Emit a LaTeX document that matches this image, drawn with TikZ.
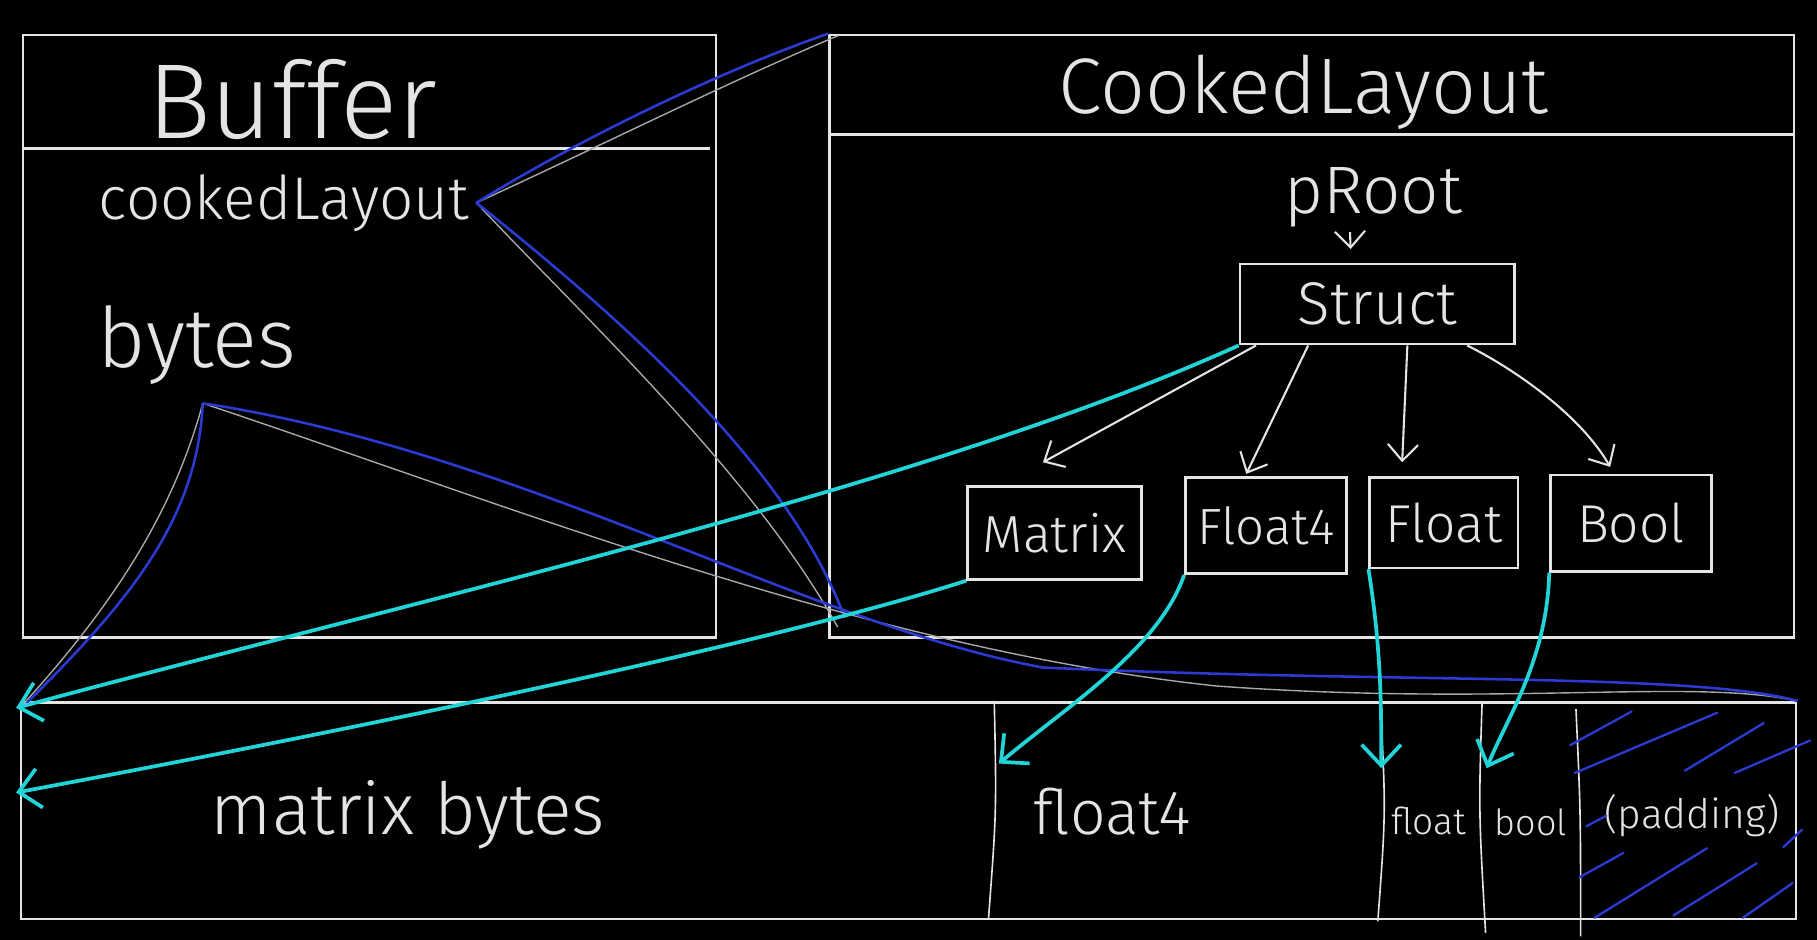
\documentclass[tikz,border=0pt]{standalone}
\usepackage{fontspec}
\setmainfont{Fira Sans Light}
\usetikzlibrary{arrows.meta}
\definecolor{chalk}{HTML}{E4E4E4}
\definecolor{penblue}{HTML}{2B3AD2}
\definecolor{pencyan}{HTML}{20D4D8}
\definecolor{pengray}{HTML}{A8A8A8}
\begin{document}
\begin{tikzpicture}[x=0.5pt,y=-0.5pt,
  lbl/.style={text=chalk, inner sep=0pt, font=\fontsize{#1pt}{#1pt}\selectfont},
  frame/.style={draw=chalk, line width=1.1pt, inner sep=0pt},
  typebox/.style={draw=chalk, line width=1.1pt, inner sep=0pt, text=chalk, font=\fontsize{#1pt}{#1pt}\selectfont},
  rule/.style={draw=chalk, line width=1.1pt},
  thinrule/.style={draw=chalk, line width=0.7pt},
  whitearr/.style={draw=chalk, line width=0.9pt, -{Straight Barb[length=7pt,width=13pt]}},
  cyanarr/.style={draw=pencyan, line width=1.6pt, -{Straight Barb[length=9pt,width=17pt]}},
  blueline/.style={draw=penblue, line width=1.1pt},
  grayline/.style={draw=pengray, line width=0.6pt},
  hatch/.style={draw=penblue, line width=1pt, line cap=round}
]
\fill[black] (0,0) rectangle (1568,811);
\useasboundingbox (0,0) rectangle (1568,811);

% ---------- Buffer frame ----------
\node[frame, minimum width=299pt, minimum height=260pt] (bufbox) at (319,290) {};
\draw[rule] (bufbox.west |- 0,128) -- ([xshift=-3pt]bufbox.east |- 0,128);
\node[lbl=46] (buffer) at (252,86) {Buffer};
\node[lbl=26] (cl) at (245,175) {cookedLayout};
\node[lbl=36] (bytes) at (170,298) {bytes};
\coordinate (bf) at (175,348);

% ---------- CookedLayout frame ----------
\node[frame, minimum width=416pt, minimum height=260pt] (cookbox) at (1132,290) {};
\draw[rule] (cookbox.west |- 0,116) -- (cookbox.east |- 0,116);
\node[lbl=34] (cooktitle) at (1125,80) {CookedLayout};
\node[lbl=29] (proot) at (1185,170) {pRoot};

\node[typebox=26, minimum width=118.5pt, minimum height=34.5pt] (struct) at (1188.5,262.5) {Struct};
\node[typebox=22.5, minimum width=75pt, minimum height=40pt] (matrix) at (910,460) {Matrix};
\node[typebox=22, minimum width=69.5pt, minimum height=41.5pt] (float4) at (1092.5,453.5) {Float4};
\node[typebox=23, minimum width=64pt, minimum height=39pt] (float) at (1246,451) {Float};
\node[typebox=23, minimum width=69.5pt, minimum height=41.5pt] (bool) at (1407.5,451.5) {Bool};

\draw[whitearr] ([xshift=-10pt,yshift=-2pt]proot.south) -- ([xshift=-11.5pt,yshift=6pt]struct.north);
\draw[whitearr] ([xshift=7.5pt]struct.south west) -- ([xshift=-5pt,yshift=10pt]matrix.north);
\draw[whitearr] ([xshift=30pt]struct.south west) -- ([xshift=-8.5pt,yshift=1pt]float4.north);
\draw[whitearr] ([xshift=13pt]struct.south) -- ([xshift=-18pt,yshift=6pt]float.north);
\draw[whitearr] ([xshift=-21pt]struct.south east) .. controls (1310,320) and (1365,360) .. ([xshift=-9pt,yshift=3pt]bool.north);

% ---------- memory strip ----------
\node[frame, minimum width=766pt, minimum height=93.5pt] (mem) at (784,699.5) {};
\draw[thinrule] (mem.north -| 858,0) .. controls (860,700) .. (853,793);
\draw[thinrule] (mem.north -| 1191,0) .. controls (1196,700) .. (1189,795);
\draw[thinrule] (mem.north -| 1279,0) .. controls (1276,700) .. (1282,805);
\draw[thinrule] (1360,612) .. controls (1364,700) .. (1364,808);

\node[lbl=31] (mbytes) at (352,703) {matrix bytes};
\node[lbl=27] (f4) at (960,700) {float4};
\node[lbl=16] (fl) at (1233,708) {float};
\node[lbl=15.5] (bl) at (1321,710) {bool};
\node[lbl=17.6] (pad) at (1460,704) {(padding)};

% padding hatching
\draw[hatch] (1355,643) -- (1408,614);
\draw[hatch] (1359,667) -- (1482,615);
\draw[hatch] (1454,665) -- (1522,624);
\draw[hatch] (1497,667) -- (1562,639);
\draw[hatch] (1369,713) -- (1386,704);
\draw[hatch] (1363,757) -- (1401,736);
\draw[hatch] (1376,792) -- (1473,732);
\draw[hatch] (1444,790) -- (1516,745);
\draw[hatch] (1504,792) -- (1547,762);
\draw[hatch] (1539,731) -- (1555,716);

% ---------- zoom lines ----------
\draw[grayline] ([xshift=3pt]cl.east) .. controls (520,125) and (630,70) .. ([xshift=4pt,yshift=-1pt]cookbox.north west);
\draw[blueline] ([xshift=3pt]cl.east) .. controls (500,120) and (620,62) .. (cookbox.north west);
\draw[grayline] ([xshift=3pt]cl.east) .. controls (510,280) and (650,410) .. ([shift={(8,-10)}]cookbox.south west);
\draw[blueline] ([xshift=3pt]cl.east) .. controls (530,270) and (680,400) .. ([shift={(14,-18)}]cookbox.south west);

\draw[grayline] (bf) .. controls (150,440) and (100,520) .. ([shift={(2,4)}]mem.north west);
\draw[blueline] (bf) .. controls (170,450) and (110,520) .. ([shift={(6,2)}]mem.north west);
\draw[grayline] (bf) .. controls (450,440) and (750,560) .. (1050,592) .. controls (1300,610) and (1460,585) .. (mem.north east);
\draw[blueline] (bf) .. controls (450,390) and (700,540) .. (900,576) .. controls (1200,590) and (1460,580) .. (mem.north east);

% ---------- cyan arrows ----------
\draw[cyanarr] (struct.south west) .. controls (800,420) and (350,520) .. ([shift={(-3,6)}]mem.north west);
\draw[cyanarr] (matrix.south west) .. controls (650,560) and (250,640) .. ([shift={(-3,79)}]mem.north west);
\draw[cyanarr] (float4.south west) .. controls (1000,560) and (920,610) .. ([shift={(4,54)}]mem.north -| 858,0);
\draw[cyanarr] (float.south west) .. controls (1192,560) and (1192,610) .. ([yshift=-29pt]mem.north -| 1192,0);
\draw[cyanarr] (bool.south west) .. controls (1335,570) and (1300,620) .. ([yshift=-29pt]mem.north -| 1283,0);
\end{tikzpicture}
\end{document}
